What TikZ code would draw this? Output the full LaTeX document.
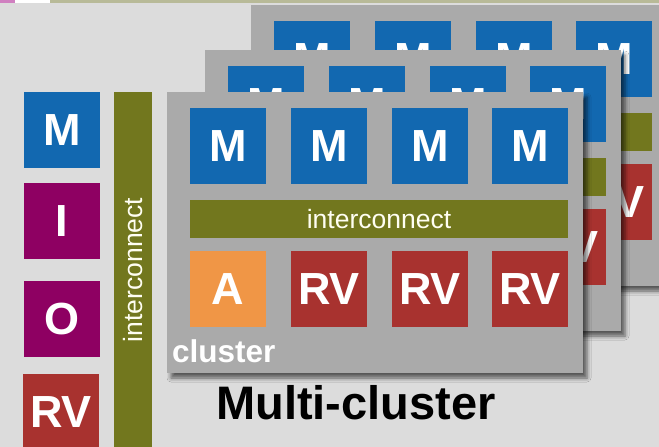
\documentclass[tikz,border=0pt]{standalone}
\usepackage{fontspec}
\setmainfont{Liberation Sans}
\usetikzlibrary{shadows.blur}
\definecolor{bgc}{HTML}{DCDCDC}
\definecolor{cgray}{HTML}{AAAAAA}
\definecolor{cblue}{HTML}{1268B0}
\definecolor{cpurple}{HTML}{8E0062}
\definecolor{cred}{HTML}{A8322F}
\definecolor{corange}{HTML}{F09646}
\definecolor{colive}{HTML}{72771E}
\definecolor{cpink}{HTML}{D080C0}
\definecolor{ckhaki}{HTML}{B8BA98}
\tikzset{
  tile/.style={minimum width=76pt, minimum height=76pt, inner sep=0pt, text=white,
    font=\bfseries\fontsize{45}{45}\selectfont},
  mem/.style={tile, fill=cblue},
  iobox/.style={tile, fill=cpurple},
  rvbox/.style={tile, fill=cred},
  accbox/.style={tile, fill=corange},
  icbar/.style={fill=colive, inner sep=0pt, text=white!95!yellow,
    font=\fontsize{26.5}{26.5}\selectfont},
  clusterbox/.style={fill=cgray, minimum width=416pt, minimum height=281pt, inner sep=0pt,
    blur shadow={shadow xshift=4pt, shadow yshift=-5pt, shadow blur radius=4pt, shadow opacity=60}},
  clusterlabel/.style={inner sep=0pt, text=white, font=\bfseries\fontsize{31.5}{31.5}\selectfont},
  titlelabel/.style={inner sep=0pt, text=black, font=\bfseries\fontsize{47}{47}\selectfont},
}
\newcommand\clusterunit[3]{%
  \begin{scope}[shift={(#2,#3)}]
    \node[clusterbox] (#1) at (208,140.5) {};
    \node[mem] (#1m1) at (61,54) {M};
    \node[mem] (#1m2) at (162,54) {M};
    \node[mem] (#1m3) at (263,54) {M};
    \node[mem] (#1m4) at (363,54) {M};
    \node[icbar, minimum width=378pt, minimum height=38pt] (#1ic) at (212,127) {interconnect};
    \node[accbox] (#1a) at (61,197) {A};
    \node[rvbox] (#1r1) at (162,197) {RV};
    \node[rvbox] (#1r2) at (263,197) {RV};
    \node[rvbox] (#1r3) at (363,197) {RV};
    \node[clusterlabel, anchor=base west] (#1lab) at (5,270) {cluster};
  \end{scope}}
\begin{document}
\begin{tikzpicture}[x=1pt, y=-1pt]
  \useasboundingbox (0,0) rectangle (659,447);
  \clip (0,0) rectangle (659,447);
  \fill[bgc] (0,0) rectangle (659,447);
  % top strip
  \fill[cpink] (0,0) rectangle (15,3);
  \fill[white] (15,0) rectangle (50,3);
  \fill[ckhaki] (50,0) rectangle (659,3);
  % left column
  \node[mem] (lm) at (62,130) {M};
  \node[iobox] (li) at (62,221) {I};
  \node[iobox] (lo) at (62,319) {O};
  \node[rvbox] (lrv) at (61,412) {RV};
  \node[icbar, minimum width=38pt, minimum height=380pt] (vic) at (133,282) {};
  \node[inner sep=0pt, text=white!95!yellow, font=\fontsize{26.5}{26.5}\selectfont, rotate=90] (victext) at (vic.center |- 0,270) {interconnect};
  % clusters, back to front
  \clusterunit{cb}{251}{5}
  \clusterunit{cm}{205}{50}
  \clusterunit{cf}{167}{92}
  % title
  \node[titlelabel, anchor=base] (title) at (356,419) {Multi-cluster};
\end{tikzpicture}
\end{document}
